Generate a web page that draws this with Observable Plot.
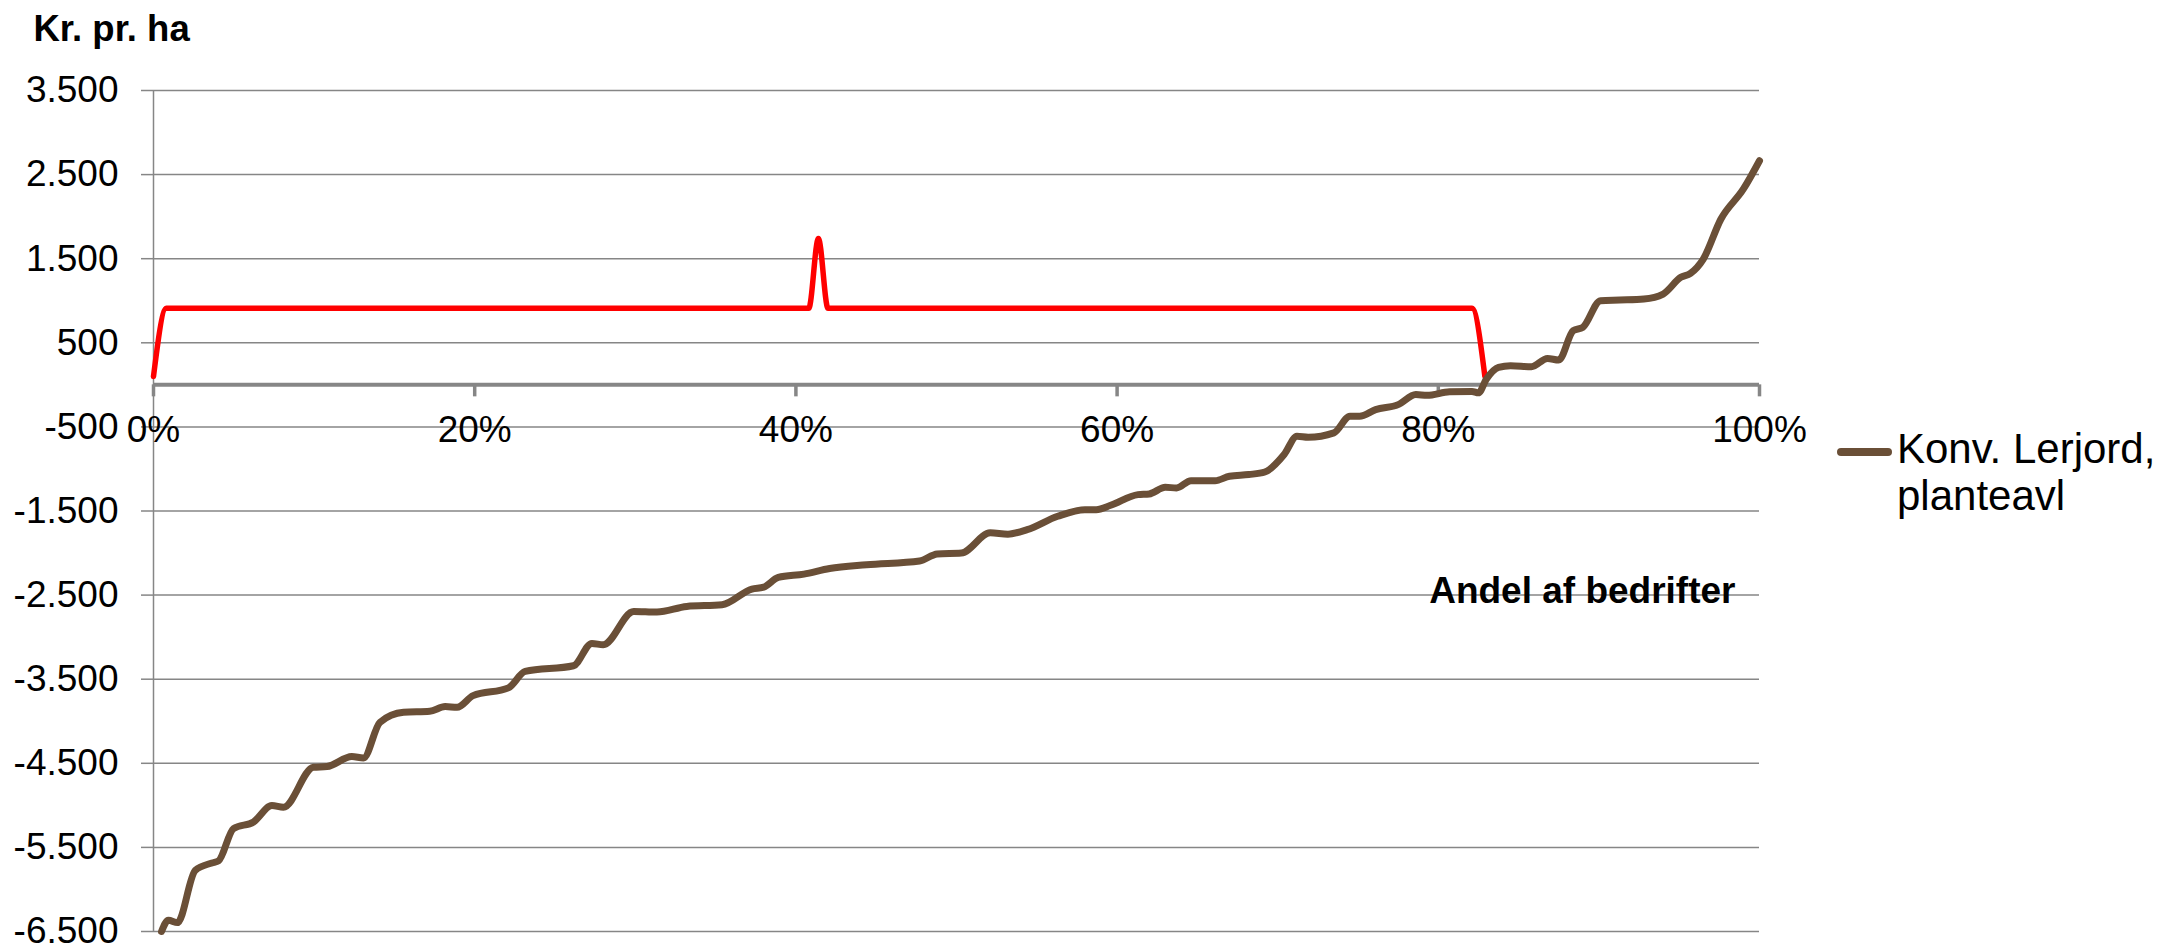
<!DOCTYPE html>
<html>
<head>
<meta charset="utf-8">
<script src="https://cdn.jsdelivr.net/npm/d3@7"></script>
<script src="https://cdn.jsdelivr.net/npm/@observablehq/plot@0.6"></script>
<style>
  body { margin: 0; background: #fff; }
  #wrap { position: relative; width: 2166px; height: 948px; font-family: "Liberation Sans", Arial, sans-serif; }
  #legend-swatch { position: absolute; left: 1837px; top: 447.5px; width: 55px; height: 8px; border-radius: 4px; background: #6A4F37; }
  #legend-text { position: absolute; left: 1897px; top: 424.5px; font-size: 42px; line-height: 47px; color: #000; white-space: nowrap; }
</style>
</head>
<body>
<div id="wrap"></div>
<script>
// Share of farms (%) and result (kr. pr. ha) for the brown series
const brownPct = [0.5, 0.93, 1.49, 2.6, 3.64, 4.05, 4.98, 6.23, 7.37, 8.09, 9.96, 10.8, 12.35, 13.07, 14.1, 15.57, 17.2, 18.16, 18.9, 19.9,
  22.1, 23.14, 26.15, 27.3, 28.0, 29.9, 31.35, 33.2, 35.4, 37.26, 38.0, 38.9, 40.5, 42.1, 44.4, 47.7, 48.8, 50.3, 52.1, 53.2,
  54.4, 56.3, 58.0, 58.7, 59.6, 61.3, 62.0, 63.0, 63.7, 64.6, 66.1, 67.0, 68.2, 69.2, 70.4, 71.2, 71.9, 73.5, 74.5, 75.1,
  76.1, 77.5, 78.6, 79.3, 80.7, 82.1, 82.5, 83.0, 83.75, 84.5, 85.8, 86.8, 87.5, 88.4, 89.0, 90.1, 91.3, 92.8, 94.0, 95.1,
  95.7, 96.5, 97.6, 99.0, 100];
const brownValues = [-6500, -6366, -6394, -5772, -5685, -5660, -5276, -5197, -5002, -5022, -4547, -4539, -4420, -4436, -4013, -3894, -3882, -3826, -3834, -3695,
  -3603, -3407, -3340, -3075, -3091, -2695, -2702, -2635, -2615, -2428, -2405, -2290, -2250, -2183, -2139, -2095, -2010, -2000, -1760, -1775,
  -1722, -1563, -1484, -1484, -1432, -1305, -1297, -1218, -1226, -1139, -1139, -1087, -1067, -1036, -829, -611, -623, -571, -373, -373,
  -294, -235, -115, -125, -82, -78, -95, 70, 207, 227, 215, 314, 295, 644, 683, 1001, 1009, 1021, 1080, 1278,
  1326, 1496, 1972, 2329, 2665];

// Red bracket line
const redPct = [0, 0.8, 40.8, 41.4, 42.0, 82.1, 82.9];
const redValues = [100, 910, 910, 1740, 910, 910, 100];

const yTicks = [-6500, -5500, -4500, -3500, -2500, -1500, -500, 500, 1500, 2500, 3500];
const xTicks = [0, 20, 40, 60, 80, 100];
const xTickLabels = ["0%", "20%", "40%", "60%", "80%", "100%"];
const seriesName = ["Konv. Lerjord,", "planteavl"];
const yTitle = "Kr. pr. ha";
const xTitle = "Andel af bedrifter";

const BROWN = "#6A4F37";
const RED = "#FF0000";
const GRID = "#868686";

const locale = d3.formatLocale({decimal: ",", thousands: ".", grouping: [3], currency: ["", " kr."], minus: "-"});
const fmt = locale.format(",");

const brown = brownPct.map((p, i) => ({p, v: brownValues[i]}));
const red = redPct.map((p, i) => ({p, v: redValues[i]}));

const chart = Plot.plot({
  width: 2166,
  height: 948,
  marginLeft: 153,
  marginRight: 407,
  marginTop: 90,
  marginBottom: 17,
  style: {fontFamily: "'Liberation Sans', Arial, sans-serif", fontSize: "37px", color: "#000", background: "#fff", overflow: "visible"},
  x: {domain: [0, 100], axis: null},
  y: {domain: [-6500, 3500], grid: false},
  marks: [
    Plot.gridY(yTicks, {stroke: GRID, strokeOpacity: 1, strokeWidth: 1.5}),
    Plot.axisY(yTicks, {tickSize: 12, tickPadding: 23, stroke: GRID, strokeWidth: 1.5, fill: "#000", fontSize: 37, tickFormat: fmt, label: null}),
    Plot.ruleX([0], {stroke: GRID, strokeWidth: 1.5}),
    Plot.ruleY([0], {stroke: GRID, strokeWidth: 4}),
    Plot.ruleX(xTicks, {x: d => d, y1: 0, y2: 0, insetBottom: -12, stroke: GRID, strokeWidth: 3.5}),
    Plot.text(xTicks, {x: d => d, y: 0, text: (d, i) => xTickLabels[i], dy: 45, fontSize: 37, fill: "#000"}),
    Plot.line(red, {x: "p", y: "v", stroke: RED, strokeWidth: 5.5, curve: "monotone-x", strokeLinejoin: "round"}),
    Plot.line(brown, {x: "p", y: "v", stroke: BROWN, strokeWidth: 7, curve: "monotone-x", strokeLinecap: "round", strokeLinejoin: "round"}),
    Plot.text([yTitle], {frameAnchor: "top-left", dx: -120, dy: -50, textAnchor: "start", lineAnchor: "bottom", fontWeight: "bold", fontSize: 36.5, fill: "#000"}),
    Plot.text([xTitle], {frameAnchor: "right", dx: -24, dy: 92, textAnchor: "end", lineAnchor: "bottom", fontWeight: "bold", fontSize: 37, fill: "#000"})
  ]
});

const wrap = document.getElementById("wrap");
wrap.appendChild(chart);
const sw = document.createElement("div");
sw.id = "legend-swatch";
wrap.appendChild(sw);
const lt = document.createElement("div");
lt.id = "legend-text";
lt.innerHTML = seriesName.join("<br>");
wrap.appendChild(lt);
</script>
</body>
</html>
